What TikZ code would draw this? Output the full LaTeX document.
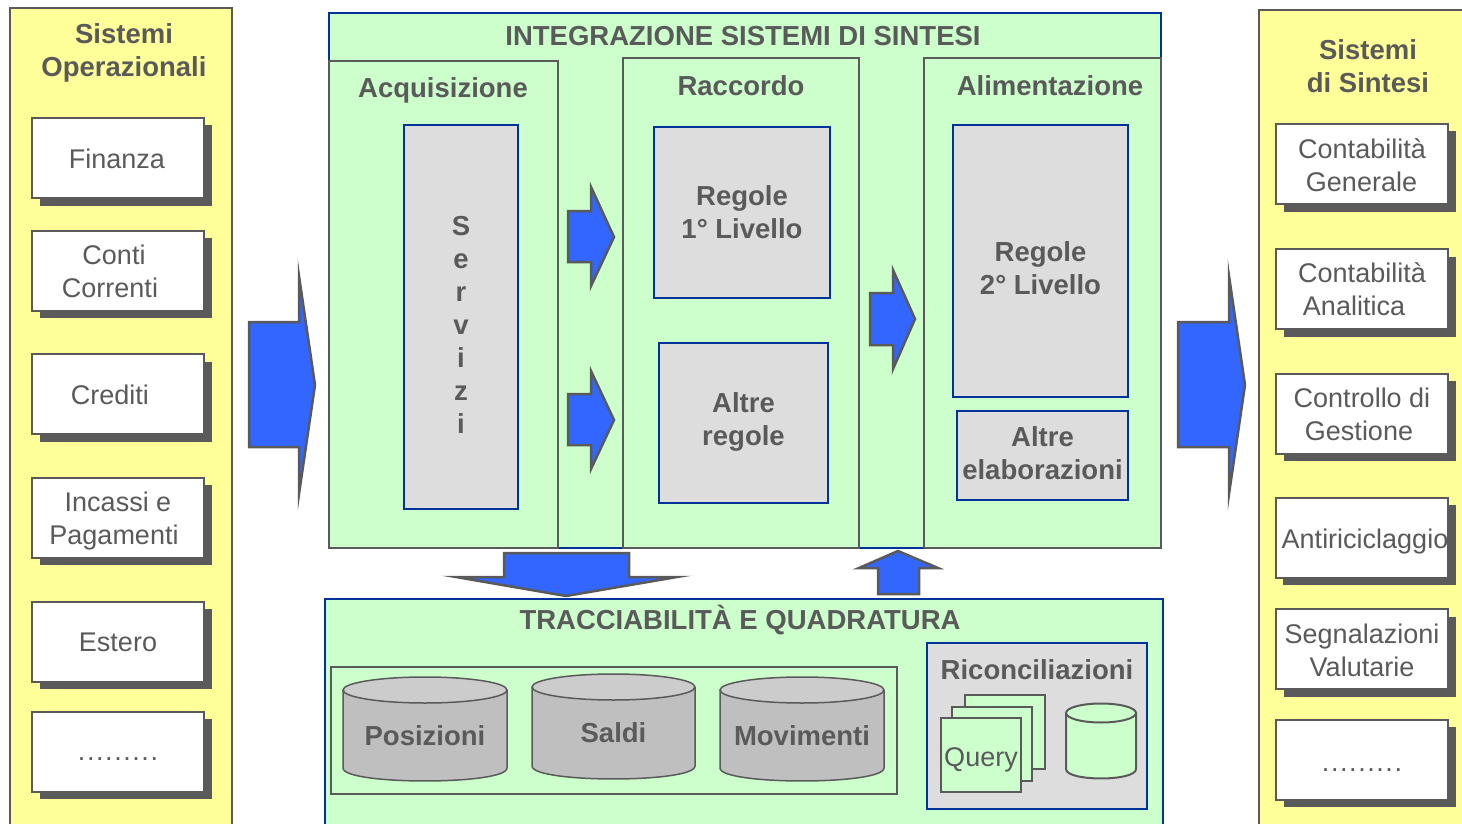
\documentclass[tikz,border=0pt]{standalone}
\usepackage{fontspec}
\setmainfont{Liberation Sans}
\newfontfamily\puntifont[LetterSpace=5.8]{Liberation Sans}
\usetikzlibrary{shadows}
\definecolor{giallo}{HTML}{FFFF99}
\definecolor{verde}{HTML}{CCFFCC}
\definecolor{bluscuro}{HTML}{003399}
\definecolor{blufreccia}{HTML}{3366FF}
\definecolor{grigio}{HTML}{5A5A5A}
\definecolor{grigiochiaro}{HTML}{DDDDDD}
\definecolor{grigiodb}{HTML}{BFBFBF}
\definecolor{grigiotop}{HTML}{CCCCCC}
\tikzset{
    testo/.style={font=\fontsize{27}{33}\selectfont, text=grigio, align=center, inner sep=0pt},
    titolo/.style={font=\fontsize{27.5}{33}\selectfont\bfseries, text=grigio, align=center, inner sep=0pt},
    pannello/.style={draw=grigio, line width=2pt},
    voce/.style={testo, draw=grigio, fill=white, line width=2pt, minimum width=172pt, minimum height=80pt, outer sep=0pt,
        general shadow={fill=grigio, shadow xshift=7.5pt, shadow yshift=-7.5pt}},
    regola/.style={titolo, draw=bluscuro, fill=grigiochiaro, line width=2pt},
    freccia/.style={draw=grigio, fill=blufreccia, line width=2.5pt, miter limit=20},
    foglio/.style={draw=grigio, fill=verde, line width=2pt},
    fusto/.style={draw=grigio, line width=1.5pt},
}
% barile: name, x centre, y of lid centre, half width, half lid height, y of side end, colours
\newcommand{\barile}[8]{
    \draw[fusto, fill=#7] (#2-#4,#3) -- (#2-#4,#6)
        .. controls (#2-#4,#6+1.33*#5) and (#2+#4,#6+1.33*#5) .. (#2+#4,#6) -- (#2+#4,#3);
    \draw[fusto, fill=#8] (#2,#3) ellipse [x radius=#4, y radius=#5];
    \coordinate (#1) at (#2,#3);
}
% alto / basso: make a line taller or deeper, so the text sits lower or higher in its box
\newcommand{\alto}[1]{\rule{0pt}{#1pt}}
\newcommand{\basso}[1]{\rule[-#1pt]{0pt}{1pt}}
\begin{document}
\begin{tikzpicture}[x=1pt,y=-1pt]
    \useasboundingbox (0,0) rectangle (1462,824);
    \clip (0,0) rectangle (1462,824);
    % sistemi operazionali
    \draw[pannello, fill=giallo] (10,8) rectangle (232,840);
    \node[titolo] (operazionali) at (124,53) {Sistemi\\Operazionali};
    \node[voce] (finanza) at (118,158) {\alto{21.5}Finanza\hspace*{2pt}};
    \node[voce] (conti) at (118,270.5) {\alto{21.5}Conti\hspace*{8pt}\\Correnti\hspace*{16pt}};
    \node[voce] (crediti) at (118,394) {\alto{21.5}Crediti\hspace*{16pt}};
    \node[voce] (incassi) at (118,517.5) {\alto{27}Incassi e\\Pagamenti\hspace*{8pt}};
    \node[voce] (estero) at (118,641.5) {\alto{19.5}Estero};
    \node[voce] (altrisx) at (118,751.5) {\alto{18}\puntifont .........};
    % sistemi di sintesi
    \draw[pannello, fill=giallo] (1259,10) rectangle (1480,840);
    \node[titolo] (sintesi) at (1368,66) {Sistemi\\di Sintesi};
    \node[voce] (generale) at (1362,164) {\alto{23}Contabilità\\Generale\hspace*{1pt}};
    \node[voce] (analitica) at (1362,289) {Contabilità\\Analitica\hspace*{16pt}};
    \node[voce] (gestione) at (1362,413.5) {\alto{21.5}Controllo di\\Gestione\hspace*{6pt}};
    \node[voce] (antiric) at (1362,537.5) {\alto{27}\hspace*{6pt}Antiriciclaggio};
    \node[voce] (valutarie) at (1362,649) {\alto{21.5}Segnalazioni\\Valutarie};
    \node[voce] (altridx) at (1362,759.5) {\alto{24}\puntifont .........};
    % integrazione
    \draw[draw=bluscuro, fill=verde, line width=2pt] (329,13) rectangle (1161,548);
    \node[titolo] (integrazione) at (743,36) {INTEGRAZIONE SISTEMI DI SINTESI};
    \draw[pannello, fill=verde] (329,61) rectangle (558,548);
    \draw[pannello, fill=verde] (622.5,58) rectangle (859,548);
    \draw[pannello, fill=verde] (924,58) rectangle (1161,548);
    \node[titolo] (acquisizione) at (443,90) {Acquisizione};
    \node[titolo] (raccordo) at (741,86) {Raccordo};
    \node[titolo] (alimentazione) at (1050,86) {Alimentazione};
    \node[regola, minimum width=114pt, minimum height=384pt] (servizi) at (461,317) {\alto{35.5}S\\e\\r\\v\\i\\z\\i};
    \node[regola, minimum width=176pt, minimum height=171pt] (livello1) at (742,212.5) {Regole\\1° Livello};
    \node[regola, minimum width=169pt, minimum height=160pt] (altre) at (743.5,423) {Altre\\regole\basso{8}};
    \node[regola, minimum width=175pt, minimum height=272pt] (livello2) at (1040.5,261) {\alto{33.5}Regole\\2° Livello};
    \node[regola, minimum width=171pt, minimum height=89pt] (elaborazioni) at (1042.5,455.5) {Altre\\elaborazioni\basso{4}};
    % frecce
    \draw[freccia] (249,322) -- (299,322) -- (299,276) -- (315,385) -- (299,494) -- (299,447) -- (249,447) -- cycle;
    \draw[freccia] (1178,322) -- (1229,322) -- (1229,276) -- (1245,385) -- (1229,494) -- (1229,447) -- (1178,447) -- cycle;
    \draw[freccia] (568,211) -- (591,211) -- (591,187) -- (614,237) -- (591,286) -- (591,262) -- (568,262) -- cycle;
    \draw[freccia] (568,394) -- (591,394) -- (591,371) -- (614,420) -- (591,469) -- (591,445) -- (568,445) -- cycle;
    \draw[freccia] (870,293) -- (893,293) -- (893,270) -- (915,319) -- (893,369) -- (893,345) -- (870,345) -- cycle;
    \draw[freccia] (504,553) -- (629,553) -- (629,577) -- (677,577) -- (566,596) -- (456,577) -- (504,577) -- cycle;
    \draw[freccia] (878,594) -- (878,568) -- (859,568) -- (898,551) -- (938,568) -- (919,568) -- (919,594) -- cycle;
    % tracciabilita
    \draw[draw=bluscuro, fill=verde, line width=2pt] (325,599) rectangle (1163,840);
    \node[titolo] (tracciabilita) at (740,620) {TRACCIABILITÀ E QUADRATURA};
    \draw[pannello, fill=verde] (331,667) rectangle (897,794);
    \barile{posdb}{425}{690}{82}{13}{768}{grigiodb}{grigiotop}
    \barile{saldidb}{613.5}{687}{81.5}{13}{766}{grigiodb}{grigiotop}
    \barile{movdb}{802}{690}{82}{13}{768}{grigiodb}{grigiotop}
    \node[titolo] (posizioni) at (425,736) {Posizioni};
    \node[titolo] (saldi) at (613.5,733) {Saldi};
    \node[titolo] (movimenti) at (802,736) {Movimenti};
    % riconciliazioni
    \draw[draw=bluscuro, fill=grigiochiaro, line width=2pt] (927,643) rectangle (1147,809);
    \node[titolo] (riconciliazioni) at (1037,670) {Riconciliazioni};
    \draw[foglio] (965,695) rectangle (1045,769);
    \draw[foglio] (952,707) rectangle (1032,781);
    \node[testo, foglio, minimum width=80pt, minimum height=74pt] (query) at (981,755) {\alto{28}Query};
    \begin{scope}[fusto/.append style={line width=2pt}]
        \barile{ricdb}{1101}{713}{35}{9.5}{769}{verde}{verde}
    \end{scope}
\end{tikzpicture}
\end{document}
